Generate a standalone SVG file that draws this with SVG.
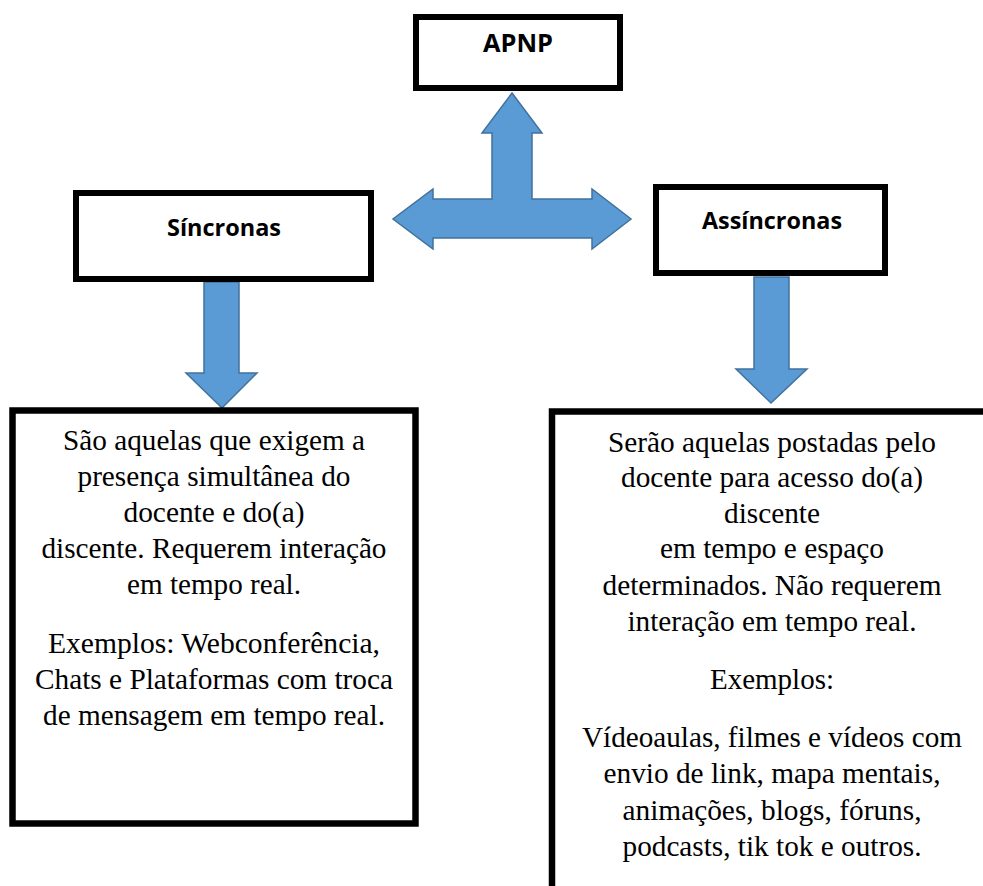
<svg xmlns="http://www.w3.org/2000/svg" width="983" height="886" viewBox="0 0 983 886">
<style>
.box{fill:#fff;stroke:#000;stroke-width:6}
.big{fill:#fff;stroke:#000;stroke-width:6.5}
.arrow{fill:#5B9BD5;stroke:#41719C;stroke-width:1.5;stroke-linejoin:miter}
.h{font-family:'Open Sans','Liberation Sans',sans-serif;font-weight:bold;font-size:24px;fill:#000;text-anchor:middle}
.t{font-family:'Liberation Serif','Times New Roman',serif;font-size:29px;fill:#000;text-anchor:middle}
</style>
<rect width="983" height="886" fill="#fff"/>
<g id="connectors">
<polygon class="arrow" points="512,93 542,133 532,133 532,199 592,199 592,189 631,219 592,249 592,238 433,238 433,249 393,219 433,189 433,199 492,199 492,133 482,133"/>
<polygon class="arrow" points="204,282 239,282 239,373 257,373 222,408 186,373 204,373"/>
<polygon class="arrow" points="754,277 789,277 789,369 807,369 771,403 736,369 754,369"/>
</g>
<g id="apnp">
<rect class="box" x="416" y="17" width="204" height="71"/>
<text class="h" x="518" y="52" style="font-size:25px" textLength="70" lengthAdjust="spacingAndGlyphs">APNP</text>
</g>
<g id="sincronas">
<rect class="box" x="76" y="193" width="295" height="86"/>
<text class="h" x="224" y="236" textLength="114" lengthAdjust="spacingAndGlyphs">Síncronas</text>
</g>
<g id="assincronas">
<rect class="box" x="656" y="187" width="229" height="86"/>
<text class="h" x="772" y="229" textLength="140" lengthAdjust="spacingAndGlyphs">Assíncronas</text>
</g>
<g id="sincronas-desc">
<rect class="big" x="12.5" y="410.5" width="403" height="413"/>
<text class="t" x="214" y="450" textLength="302" lengthAdjust="spacingAndGlyphs">São aquelas que exigem a</text>
<text class="t" x="214" y="486" textLength="273" lengthAdjust="spacingAndGlyphs">presença simultânea do</text>
<text class="t" x="214" y="522" textLength="181" lengthAdjust="spacingAndGlyphs">docente e do(a)</text>
<text class="t" x="214" y="558" textLength="345" lengthAdjust="spacingAndGlyphs">discente. Requerem interação</text>
<text class="t" x="214" y="594" textLength="174" lengthAdjust="spacingAndGlyphs">em tempo real.</text>
<text class="t" x="214" y="653" textLength="332" lengthAdjust="spacingAndGlyphs">Exemplos: Webconferência,</text>
<text class="t" x="214" y="689" textLength="358" lengthAdjust="spacingAndGlyphs">Chats e Plataformas com troca</text>
<text class="t" x="214" y="725" textLength="342" lengthAdjust="spacingAndGlyphs">de mensagem em tempo real.</text>
</g>
<g id="assincronas-desc">
<rect class="big" x="552" y="411.5" width="460" height="500"/>
<text class="t" x="772" y="452" textLength="328" lengthAdjust="spacingAndGlyphs">Serão aquelas postadas pelo</text>
<text class="t" x="772" y="487" textLength="302" lengthAdjust="spacingAndGlyphs">docente para acesso do(a)</text>
<text class="t" x="772" y="523" textLength="96" lengthAdjust="spacingAndGlyphs">discente</text>
<text class="t" x="772" y="558" textLength="224" lengthAdjust="spacingAndGlyphs">em tempo e espaço</text>
<text class="t" x="772" y="595" textLength="339" lengthAdjust="spacingAndGlyphs">determinados. Não requerem</text>
<text class="t" x="772" y="631" textLength="289" lengthAdjust="spacingAndGlyphs">interação em tempo real.</text>
<text class="t" x="772" y="689" textLength="124" lengthAdjust="spacingAndGlyphs">Exemplos:</text>
<text class="t" x="772" y="747" textLength="380" lengthAdjust="spacingAndGlyphs">Vídeoaulas, filmes e vídeos com</text>
<text class="t" x="772" y="783" textLength="337" lengthAdjust="spacingAndGlyphs">envio de link, mapa mentais,</text>
<text class="t" x="772" y="820" textLength="299" lengthAdjust="spacingAndGlyphs">animações, blogs, fóruns,</text>
<text class="t" x="772" y="856" textLength="299" lengthAdjust="spacingAndGlyphs">podcasts, tik tok e outros.</text>
</g>
</svg>
